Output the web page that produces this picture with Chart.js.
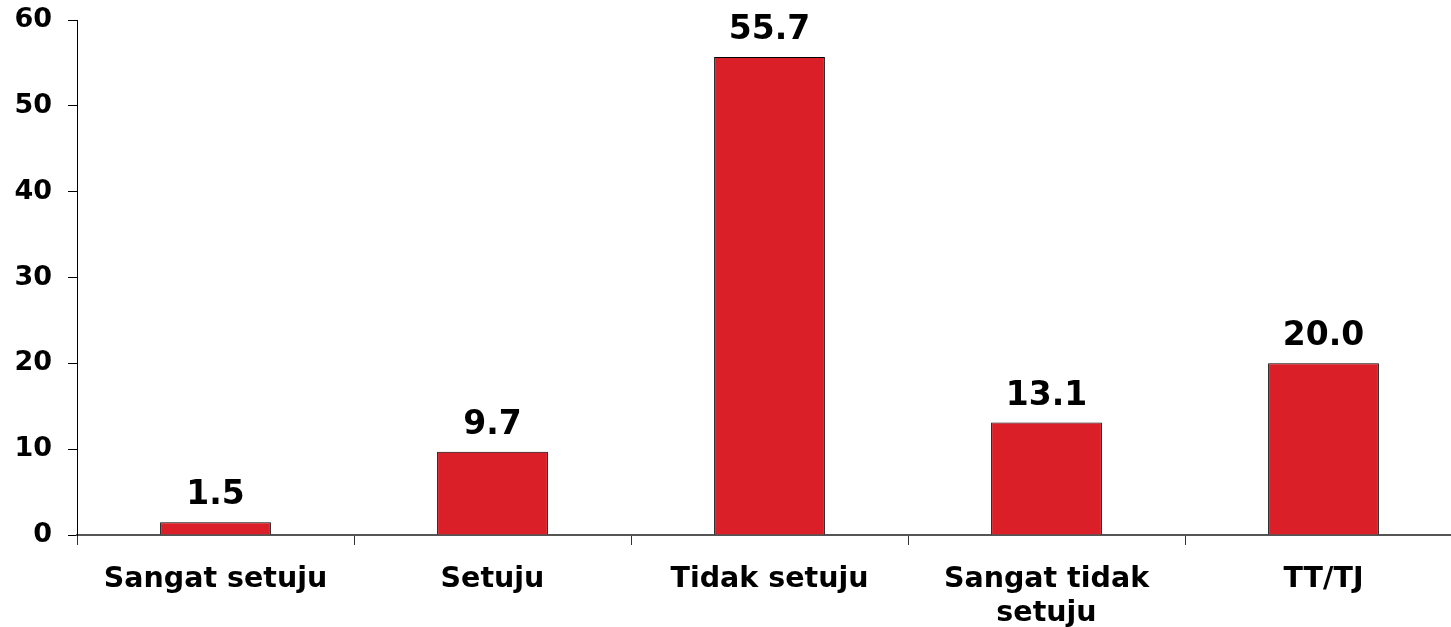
<!DOCTYPE html>
<html>
<head>
<meta charset="utf-8">
<script src="https://cdn.jsdelivr.net/npm/chart.js@4/dist/chart.umd.min.js"></script>
<style>
html,body{margin:0;padding:0;background:#fff;overflow:hidden;}
#wrap{width:1462px;height:627px;}
</style>
</head>
<body>
<div id="wrap"><canvas id="c" width="1462" height="627"></canvas></div>
<script>
const categories = ["Sangat setuju", "Setuju", "Tidak setuju", ["Sangat tidak", "setuju"], "TT/TJ"];
const values = [1.5, 9.7, 55.7, 13.1, 20.0];
const yTicks = [0, 10, 20, 30, 40, 50, 60];

const FONT = "'DejaVu Sans', Verdana, sans-serif";

const valueLabels = {
  id: 'valueLabels',
  afterDatasetsDraw(chart) {
    const ctx = chart.ctx;
    const meta = chart.getDatasetMeta(0);
    ctx.save();
    ctx.font = "bold 33px " + FONT;
    ctx.fillStyle = "#000";
    ctx.textAlign = "center";
    ctx.textBaseline = "alphabetic";
    meta.data.forEach((bar, i) => {
      ctx.fillText(values[i].toFixed(1), bar.x, bar.y - 18);
    });
    ctx.restore();
  }
};

new Chart(document.getElementById('c'), {
  type: 'bar',
  data: {
    labels: categories,
    datasets: [{
      data: values,
      backgroundColor: '#DA1F28',
      borderColor: '#000',
      borderWidth: 1,
      categoryPercentage: 1,
      barPercentage: 0.4
    }]
  },
  options: {
    responsive: false,
    animation: false,
    devicePixelRatio: 1,
    layout: { padding: { top: 20, left: 0, right: 0, bottom: 0 } },
    plugins: { legend: { display: false }, tooltip: { enabled: false } },
    scales: {
      x: {
        grid: { drawOnChartArea: false, drawTicks: true, tickLength: 10, color: '#333', offset: true },
        border: { display: true, color: '#555', width: 2 },
        ticks: { color: '#000', font: { family: FONT, size: 28.5, weight: 'bold' }, padding: 17, maxRotation: 0, autoSkip: false },
        afterFit(s) { s.height = 92; s.paddingLeft = 0; s.paddingRight = 0; }
      },
      y: {
        min: 0, max: 60,
        afterBuildTicks(s) { s.ticks = yTicks.map(v => ({ value: v })); },
        grid: { drawOnChartArea: false, drawTicks: true, tickLength: 9, color: '#000' },
        border: { display: true, color: '#000', width: 1 },
        ticks: { color: '#000', font: { family: FONT, size: 27, weight: 'bold' }, padding: 16 },
        afterFit(s) { s.width = 77; s.paddingTop = 0; s.paddingBottom = 0; }
      }
    }
  },
  plugins: [valueLabels]
});
</script>
</body>
</html>
